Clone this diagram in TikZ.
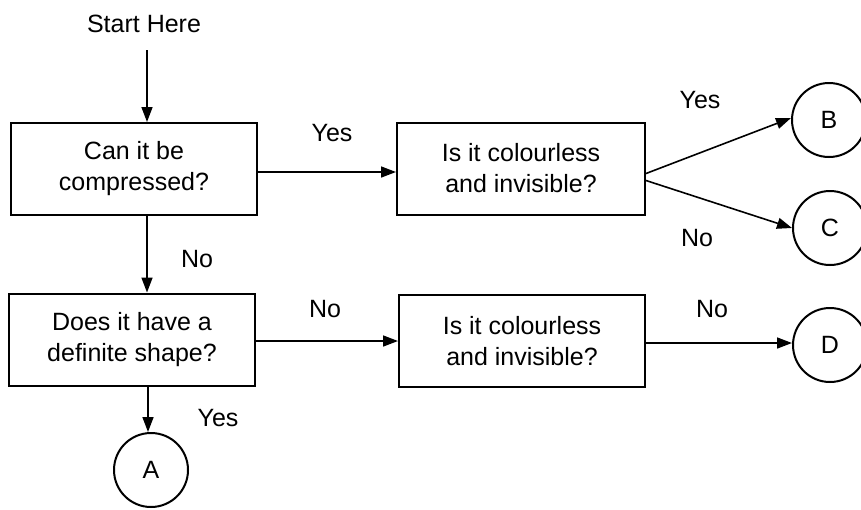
\documentclass[tikz,border=0pt]{standalone}
\usepackage{fontspec}
\setmainfont{Liberation Sans}
\usetikzlibrary{arrows.meta}
\begin{document}
\begin{tikzpicture}[x=1pt,y=-1pt,
  every node/.style={font=\fontsize{25}{31}\selectfont, inner sep=2pt},
  qbox/.style={draw, line width=2pt, minimum width=246pt, minimum height=92pt, align=center, inner sep=0pt},
  endc/.style={draw, circle, line width=2pt, minimum size=74pt, inner sep=0pt},
  arr/.style={line width=1.6pt, -{Triangle[length=15pt,width=11pt]}},
  lbl/.style={inner sep=0pt}]
\useasboundingbox (0,0) rectangle (861,509);
\node[lbl] (start) at (144,24) {Start Here};
\node[qbox] (b1) at (134,169) {Can it be\\compressed?};
\node[qbox, minimum width=248pt] (b2) at (521,168.5) {Is it colourless\\and invisible?};
\node[qbox] (b3) at (132,339.5) {Does it have a\\definite shape?};
\node[qbox] (b4) at (522,341) {Is it colourless\\and invisible?};
\node[endc] (B) at (829,120) {B};
\node[endc] (C) at (830,228) {C};
\node[endc] (D) at (830,345) {D};
\node[endc] (A) at (151,470) {A};
\coordinate (s1) at (147,50);
\draw[arr] (s1) -- (s1 |- b1.north);
\draw[arr] (b1.south -| s1) -- (b3.north -| s1);
\draw[arr] (b3.south -| 148,0) -- (A.north -| 148,0);
\draw[arr] ([yshift=-3pt]b1.east) -- ([yshift=-3pt]b1.east -| b2.west);
\draw[arr] ([yshift=-5pt]b2.east) -- ([yshift=2pt]B.west);
\draw[arr] ([yshift=-12pt]b2.east) -- (C.west);
\draw[arr] ([yshift=-1.5pt]b3.east) -- ([yshift=-1.5pt]b3.east -| b4.west);
\draw[arr] ([yshift=-2pt]b4.east) -- ([yshift=-2pt]b4.east -| D.west);
\node[lbl] (l1) at (332,133) {Yes};
\node[lbl] (l2) at (700,100) {Yes};
\node[lbl] (l3) at (697,238) {No};
\node[lbl] (l4) at (197,259) {No};
\node[lbl] (l5) at (325,309) {No};
\node[lbl] (l6) at (712,309) {No};
\node[lbl] (l7) at (218,418) {Yes};
\end{tikzpicture}
\end{document}
